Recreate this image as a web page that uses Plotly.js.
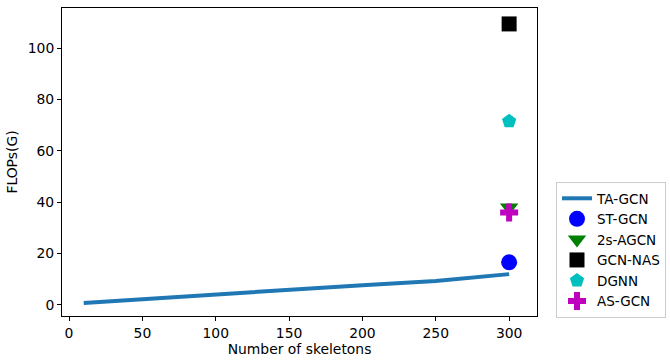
<!DOCTYPE html>
<html><head><meta charset="utf-8">
<script src="https://cdn.plot.ly/plotly-3.0.1.min.js"></script>
<style>body{margin:0;background:#fff}#chart{width:670px;height:363px}</style>
</head><body><div id="chart"></div>
<script>
const taX = [10, 50, 100, 150, 200, 250, 300];
const taY = [0.8, 2.3, 4.2, 6.0, 7.7, 9.3, 12.0];
const methodNames = ["ST-GCN", "2s-AGCN", "GCN-NAS", "DGNN", "AS-GCN"];
const methodX = [300, 300, 300, 300, 300];
const methodY = [16.6, 37.9, 109.4, 71.5, 36.0];
const methodSymbols = ["circle", "triangle-down", "square", "pentagon", "cross"];
const methodColors = ["#0000ff", "#008000", "#000000", "#00bfbf", "#bf00bf"];
const methodSizes = [16, 16, 15, 15, 15];

const traces = [{
  x: taX, y: taY, type: "scatter", mode: "lines", name: "TA-GCN",
  line: {color: "#1f77b4", width: 4}
}];
methodNames.forEach((n, i) => {
  traces.push({
    x: [methodX[i]], y: [methodY[i]], type: "scatter", mode: "markers", name: n,
    marker: {symbol: methodSymbols[i], color: methodColors[i], size: methodSizes[i], line: {width: 0}}
  });
});

const FS = 13.9;
const axisCommon = {
  showline: true, mirror: true, linecolor: "#000", linewidth: 1,
  ticks: "outside", ticklen: 4, tickcolor: "#000", showgrid: false, zeroline: false,
  tickfont: {family: "DejaVu Sans", size: FS, color: "#000"}
};
const layout = {
  width: 670, height: 363,
  margin: {l: 62, r: 133, t: 8, b: 47, autoexpand: false},
  paper_bgcolor: "#fff", plot_bgcolor: "#fff",
  font: {family: "DejaVu Sans", color: "#000"},
  xaxis: Object.assign({}, axisCommon, {
    range: [-4.8, 319], tickvals: [0, 50, 100, 150, 200, 250, 300],
    title: {text: "Number of skeletons", font: {family: "DejaVu Sans", size: FS}, standoff: 4}
  }),
  yaxis: Object.assign({}, axisCommon, {
    range: [-4.3, 115.6], tickvals: [0, 20, 40, 60, 80, 100],
    title: {text: "FLOPs(G)", font: {family: "DejaVu Sans", size: FS}, standoff: 6}
  }),
  showlegend: true,
  legend: {
    x: 1.04, y: 0.435, xanchor: "left", yanchor: "top",
    bordercolor: "#ccc", borderwidth: 1, bgcolor: "#fff",
    font: {family: "DejaVu Sans", size: 13.5}, tracegroupgap: 0, itemwidth: 30
  }
};
Plotly.newPlot("chart", traces, layout, {displayModeBar: false, staticPlot: true});
</script></body></html>
